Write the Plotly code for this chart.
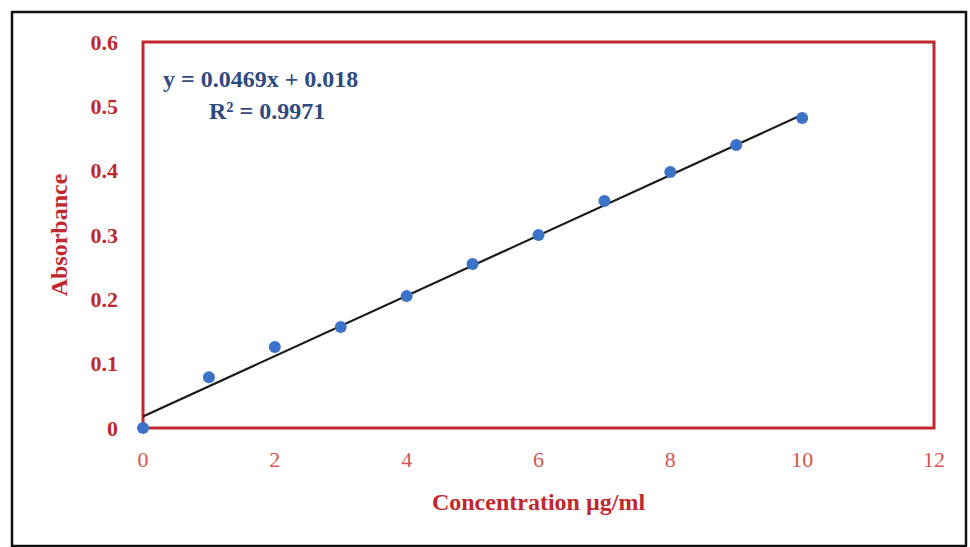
import plotly.graph_objects as go

concentration = [0, 1, 2, 3, 4, 5, 6, 7, 8, 9, 10]
absorbance = [0.0, 0.079, 0.126, 0.157, 0.205, 0.255, 0.300, 0.353, 0.398, 0.440, 0.482]
slope = 0.0469
intercept = 0.018
r_squared = 0.9971
x_ticks = [0, 2, 4, 6, 8, 10, 12]
y_ticks = [0, 0.1, 0.2, 0.3, 0.4, 0.5, 0.6]
y_tick_text = ["0", "0.1", "0.2", "0.3", "0.4", "0.5", "0.6"]

RED = "#c0282e"
FONT = "Liberation Serif"

fit_x = [concentration[0], concentration[-1]]
fit_y = [slope * v + intercept for v in fit_x]

fig = go.Figure()
fig.add_trace(go.Scatter(x=fit_x, y=fit_y, mode="lines",
                         line=dict(color="#1a1a1a", width=2.2),
                         showlegend=False, hoverinfo="skip"))
fig.add_trace(go.Scatter(x=concentration, y=absorbance, mode="markers",
                         marker=dict(color="#3d72c9", size=12),
                         showlegend=False, cliponaxis=False))

L, R, T, B = 143, 36, 42, 119
W, H = 970, 547
pw, ph = W - L - R, H - T - B

def px_x(p):
    return (p - L) / pw

def px_y(p):
    return (H - B - p) / ph

fig.add_shape(type="rect", xref="paper", yref="paper",
              x0=px_x(12), x1=px_x(966), y0=px_y(546), y1=px_y(12),
              line=dict(color="#111111", width=2.5), layer="below")
fig.add_shape(type="rect", xref="paper", yref="paper", x0=0, x1=1, y0=0, y1=1,
              line=dict(color=RED, width=3), layer="below")

fig.add_annotation(xref="paper", yref="paper", x=px_x(161), y=px_y(79),
                   xanchor="left", yanchor="middle", showarrow=False,
                   text=f"y = {slope}x + {intercept}",
                   font=dict(family=FONT, size=24, color="#2e4a80", weight="bold"))
fig.add_annotation(xref="paper", yref="paper", x=px_x(207), y=px_y(111),
                   xanchor="left", yanchor="middle", showarrow=False,
                   text=f"R² = {r_squared}",
                   font=dict(family=FONT, size=24, color="#2e4a80", weight="bold"))

fig.update_layout(
    width=W, height=H,
    margin=dict(l=L, r=R, t=T, b=B),
    paper_bgcolor="white", plot_bgcolor="white",
    xaxis=dict(range=[0, 12], tickvals=x_ticks, showgrid=False, zeroline=False,
               showline=False, ticks="", ticklabelstandoff=16,
               tickfont=dict(family=FONT, size=22, color="#d9534f"),
               title=dict(text="Concentration µg/ml", standoff=22,
                          font=dict(family=FONT, size=24, color=RED, weight="bold"))),
    yaxis=dict(range=[0, 0.6], tickvals=y_ticks, ticktext=y_tick_text,
               showgrid=False, zeroline=False, showline=False, ticks="",
               ticklabelstandoff=24,
               tickfont=dict(family=FONT, size=22, color=RED, weight="bold"),
               title=dict(text="Absorbance", standoff=16,
                          font=dict(family=FONT, size=24, color=RED, weight="bold"))),
)

fig.write_html("out.html", post_script="document.body.style.margin='0';",
               config={"displayModeBar": False})
